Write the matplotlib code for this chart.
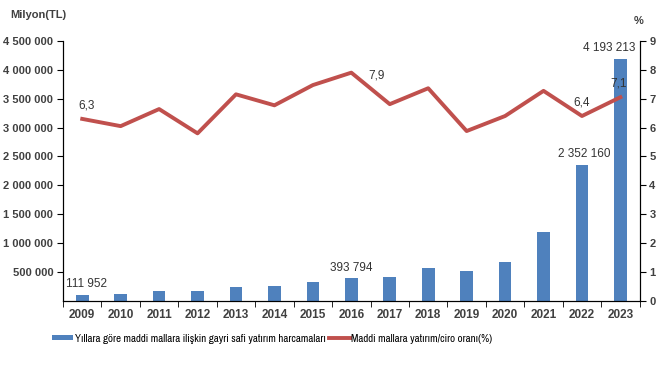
import matplotlib.pyplot as plt
import numpy as np
from matplotlib import font_manager

years = ['2009', '2010', '2011', '2012', '2013', '2014', '2015', '2016',
         '2017', '2018', '2019', '2020', '2021', '2022', '2023']
investment = [111952, 126000, 178000, 178000, 248000, 265000, 329000, 393794,
              421000, 577000, 519000, 675000, 1200000, 2352160, 4193213]
ratio = [6.3, 6.05, 6.64, 5.8, 7.15, 6.77, 7.47, 7.9,
         6.81, 7.36, 5.88, 6.4, 7.27, 6.4, 7.05]
left_ticks = [500000, 1000000, 1500000, 2000000, 2500000, 3000000, 3500000, 4000000, 4500000]

names = sorted({f.name for f in font_manager.fontManager.ttflist})
narrow = [n for n in names if 'Narrow' in n or 'Condensed' in n]
plt.rcParams['font.family'] = ['Liberation Sans', 'DejaVu Sans']

tick_col = '#404040'
fig = plt.figure(figsize=(6.59, 3.68), dpi=100)
ax = fig.add_axes([0.0956, 0.182, 0.875, 0.707])
ax2 = ax.twinx()

x = np.arange(len(years))
bars = ax.bar(x, investment, width=0.33, color='#4F81BD', zorder=2,
              label='Yıllara göre maddi mallara ilişkin gayri safi yatırım harcamaları')
line, = ax2.plot(x, ratio, color='#C0504D', lw=2.8, zorder=3,
                 label='Maddi mallara yatırım/ciro oranı(%)')

ax.set_xlim(-0.5, len(years) - 0.5)
ax.set_ylim(0, 4500000)
ax2.set_ylim(0, 9)
ax.set_yticks(left_ticks)
ax.set_yticklabels([f'{v:,}'.replace(',', ' ') for v in left_ticks])
ax2.set_yticks(range(10))
ax.set_xticks(x)
ax.set_xticklabels(years)
ax.set_xticks(np.arange(-0.5, len(years)), minor=True)
ax.tick_params(axis='x', which='major', length=0, pad=6)
ax.tick_params(axis='x', which='minor', length=4, direction='out')
for a in (ax, ax2):
    a.tick_params(axis='y', length=4, direction='out', colors='black', labelcolor=tick_col, pad=3)
    for lab in a.get_yticklabels():
        lab.set_fontweight('bold')
        lab.set_fontsize(8)
for lab in ax.get_xticklabels():
    lab.set_fontweight('bold')
    lab.set_fontsize(8.5)
    lab.set_color(tick_col)
ax.spines['top'].set_visible(False)
ax2.spines['top'].set_visible(False)

fig.text(0.015, 0.952, 'Milyon(TL)', fontsize=8, fontweight='bold', color=tick_col)
fig.text(0.962, 0.935, '%', fontsize=8, fontweight='bold', color=tick_col)

# data labels
lbl = dict(fontsize=8.5, color='#333333', ha='center', va='bottom')
ax.text(x[0] + 0.1, investment[0] + 80000, '111 952', **lbl)
ax.text(x[7], investment[7] + 80000, '393 794', **lbl)
ax.text(x[13] + 0.05, investment[13] + 80000, '2 352 160', **lbl)
ax.text(x[14] - 0.3, investment[14] + 80000, '4 193 213', **lbl)
ax2.text(x[0] + 0.1, ratio[0] + 0.25, '6,3', **lbl)
ax2.text(x[7] + 0.45, ratio[7] - 0.1, '7,9', fontsize=8.5, color='#333333', ha='left', va='center')
ax2.text(x[13], ratio[13] + 0.25, '6,4', **lbl)
ax2.text(x[14] - 0.05, ratio[14] + 0.25, '7,1', **lbl)

if narrow:
    prop = {'family': narrow[0], 'size': 7.9}
else:
    prop = {'family': 'Liberation Sans', 'size': 7}
fig.legend(handles=[bars, line], loc='center', bbox_to_anchor=(0.413, 0.08), ncol=2,
           frameon=False, handlelength=1.9, handleheight=0.4, columnspacing=0.3,
           handletextpad=0.15, prop=prop)
fig.savefig('out.png', dpi=100)
